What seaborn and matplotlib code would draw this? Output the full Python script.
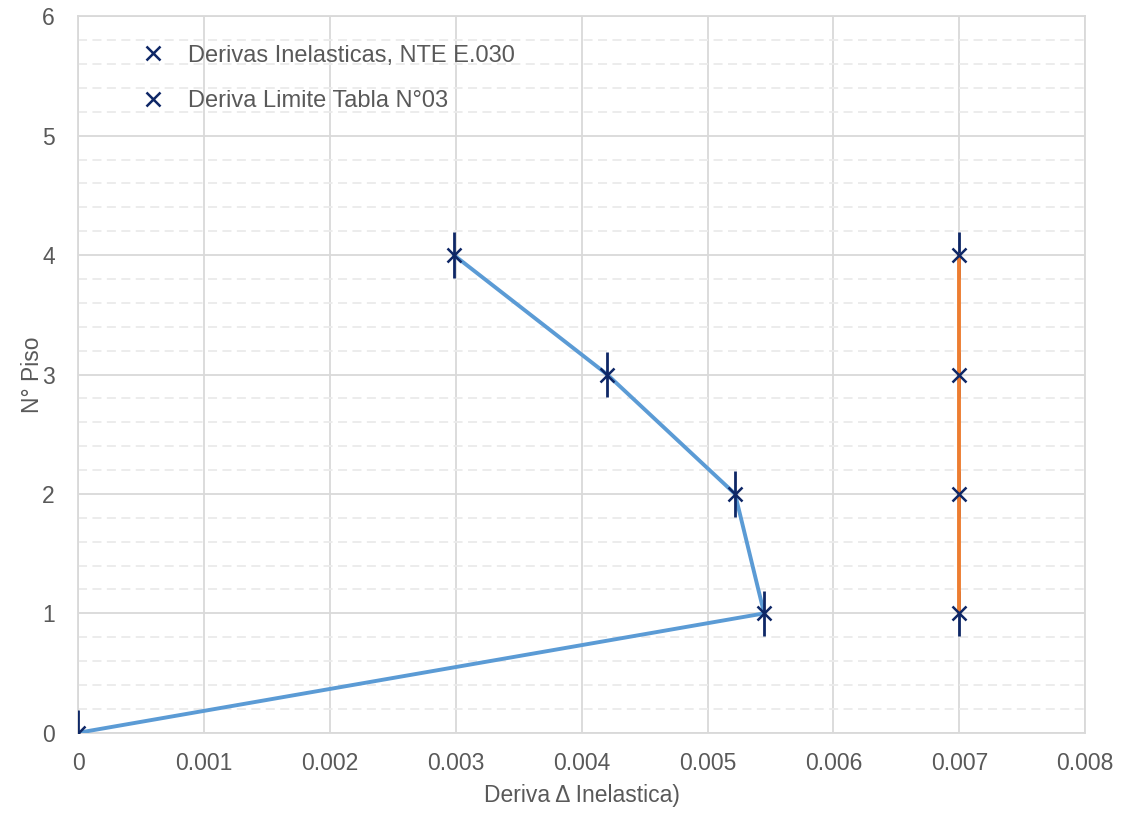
import matplotlib
matplotlib.use("Agg")
import matplotlib.pyplot as plt
import seaborn as sns
import pandas as pd
from matplotlib.lines import Line2D
from matplotlib.ticker import MultipleLocator

# Data
piso = [0, 1, 2, 3, 4]
deriva_inelastica = [0.0, 0.005449, 0.005218, 0.004203, 0.002985]
piso_limite = [1, 2, 3, 4]
deriva_limite = [0.007, 0.007, 0.007, 0.007]
err_inel = [0.19, 0.19, 0.19, 0.19, 0.19]
err_lim = [0.19, 0.19, 0.19, 0.19]
label_1 = "Derivas Inelasticas, NTE E.030"
label_2 = "Deriva Limite Tabla N°03"
xlabel = "Deriva Δ Inelastica)"
ylabel = "N° Piso"

sns.set_theme(style="white")
plt.rcParams['font.family'] = ['Liberation Sans', 'DejaVu Sans']

blue = "#5B9BD5"
orange = "#ED7D31"
navy = "#0E2766"
grid_c = "#D9D9D9"
txt_c = "#595959"

fig = plt.figure(figsize=(11.34, 8.16), dpi=100)
ax = fig.add_axes([0.069, 0.102, 0.888, 0.878])

df1 = pd.DataFrame({"x": deriva_inelastica, "y": piso})
df2 = pd.DataFrame({"x": deriva_limite, "y": piso_limite})

sns.lineplot(data=df1, x="x", y="y", sort=False, ax=ax, color=blue, lw=2.8, zorder=3, estimator=None)
ax.errorbar(deriva_inelastica, piso, yerr=err_inel, fmt='x', color=navy, ecolor=navy,
            elinewidth=2.0, markersize=10, mew=1.8, capsize=0, zorder=4, clip_on=True)
ax.errorbar(deriva_limite, piso_limite, yerr=err_lim, fmt='none', ecolor=navy,
            elinewidth=2.0, capsize=0, zorder=4.5)
sns.lineplot(data=df2, x="x", y="y", sort=False, ax=ax, color=orange, lw=2.8, zorder=5, estimator=None)
ax.plot(deriva_limite, piso_limite, 'x', color=navy, markersize=10, mew=1.8, zorder=6)

ax.set_xlim(0, 0.008)
ax.set_ylim(0, 6)
ax.yaxis.set_major_locator(MultipleLocator(1))
ax.yaxis.set_minor_locator(MultipleLocator(0.2))
xt = [0, 0.001, 0.002, 0.003, 0.004, 0.005, 0.006, 0.007, 0.008]
ax.set_xticks(xt)
ax.set_xticklabels(["0" if v == 0 else f"{v:.3f}" for v in xt])
ax.grid(which='major', color=grid_c, lw=1.3, ls='-', zorder=0)
ax.grid(which='minor', axis='y', color="#EBEBEB", lw=1.3, ls=(0, (5, 3)), zorder=0)
ax.set_axisbelow(True)
for s in ax.spines.values():
    s.set_color(grid_c)
    s.set_linewidth(1.3)
ax.tick_params(axis='x', which='both', length=0, labelsize=16.5, colors=txt_c, pad=14)
ax.tick_params(axis='y', which='both', length=0, labelsize=16.5, colors=txt_c, pad=17)
ax.set_xlabel(xlabel, fontsize=16.5, color=txt_c, labelpad=6)
ax.set_ylabel(ylabel, fontsize=16.5, color=txt_c)
ax.yaxis.set_label_coords(-0.034, 0.5)

h1 = Line2D([], [], marker='x', color=navy, ls='none', markersize=10, mew=1.8)
h2 = Line2D([], [], marker='x', color=navy, ls='none', markersize=10, mew=1.8)
leg = ax.legend([h1, h2], [label_1, label_2], loc='upper left', bbox_to_anchor=(0.041, 0.99),
                frameon=False, fontsize=17, labelspacing=1.0, handlelength=1.0, handletextpad=1.0)
for t in leg.get_texts():
    t.set_color(txt_c)

fig.savefig("out.png", dpi=100)
